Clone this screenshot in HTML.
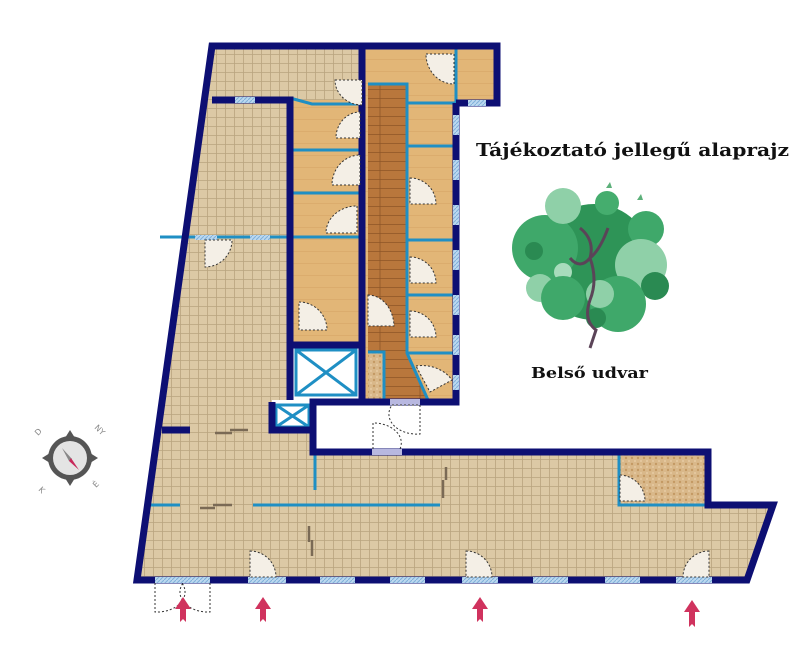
<!DOCTYPE html>
<html><head><meta charset="utf-8"><style>html,body{margin:0;padding:0;background:#fff}svg{display:block}</style></head>
<body>
<svg width="800" height="656" viewBox="0 0 800 656" xmlns="http://www.w3.org/2000/svg">
<defs>
<pattern id="tile" width="9" height="9" patternUnits="userSpaceOnUse">
<rect width="9" height="9" fill="#dcc9a5"/>
<path d="M0 0.5H9M0.5 0V9" stroke="#b9a47f" stroke-width="0.8"/>
</pattern>
<pattern id="wood" width="40" height="12" patternUnits="userSpaceOnUse">
<rect width="40" height="12" fill="#e2b677"/>
<path d="M0 11.5H40" stroke="#d4a263" stroke-width="0.6"/>
</pattern>
<pattern id="dwood" width="40" height="9" patternUnits="userSpaceOnUse">
<rect width="40" height="9" fill="#b9773c"/>
<path d="M0 8.5H40M20 0V9" stroke="#8e5526" stroke-width="0.8"/>
</pattern>
<pattern id="dot" width="6" height="6" patternUnits="userSpaceOnUse">
<rect width="6" height="6" fill="#d9b88a"/>
<circle cx="2" cy="2" r="1.2" fill="#c49a64"/><circle cx="5" cy="5" r="1" fill="#e6cba3"/>
</pattern>
<pattern id="win" width="4" height="4" patternUnits="userSpaceOnUse">
<rect width="4" height="4" fill="#bcd8ef"/><path d="M0 4L4 0" stroke="#7fb0da" stroke-width="1"/>
</pattern>
</defs>

<!-- floors -->
<polygon points="212,46 362,46 362,100 290,100 290,400 272,400 272,430 313,430 313,452 708,452 708,505 773,505 747,580 137,580" fill="url(#tile)"/>
<rect x="362" y="46" width="135" height="57" fill="url(#wood)"/>
<rect x="290" y="100" width="72" height="245" fill="url(#wood)"/>
<rect x="362" y="84" width="94" height="316" fill="url(#wood)"/>
<polygon points="368,84 407,84 407,353 428,400 368,400" fill="url(#dwood)"/>
<rect x="368" y="352" width="16" height="48" fill="url(#dot)"/>
<rect x="619" y="452" width="89" height="53" fill="url(#dot)"/>
<rect x="290" y="345" width="72" height="55" fill="#fff"/>
<rect x="272" y="402" width="41" height="28" fill="#fff"/>

<!-- blue thin walls -->
<g stroke="#1f8fc4" stroke-width="3" fill="none">
<path d="M160 237H290"/>
<path d="M290 98L312 104H362"/>
<path d="M290 150H362M290 193H362M290 237H362"/>
<path d="M368 84H407V353L428 400"/>
<path d="M407 103H456M407 146H456M407 240H456M407 295H456M407 353H456"/>
<path d="M456 46V103"/>
<path d="M368 352H384V400"/>
<path d="M315 452V490"/>
<path d="M150 505H180M253 505H440"/>
<path d="M619 452V505H708"/>
<rect x="296" y="350" width="60" height="45"/>
<path d="M296 350L356 395M356 350L296 395"/>
<rect x="276" y="405" width="33" height="22"/>
<path d="M276 405L309 427M309 405L276 427"/>
</g>
<rect x="195" y="235" width="22" height="5" fill="url(#win)"/>
<rect x="250" y="235" width="20" height="5" fill="url(#win)"/>

<!-- dark walls -->
<g stroke="#0d0f73" stroke-width="7" fill="none" stroke-linejoin="miter">
<path d="M456 103H497V46H212L137 580H747L773 505H708V452H313V402H456V103"/>
<path d="M212 100H290V400"/>
<path d="M362 46V402"/>
<path d="M290 345H362"/>
<path d="M272 402V430H313"/>
<path d="M162 430H190"/>
</g>
<g fill="url(#win)">
<rect x="235" y="97" width="20" height="6"/>
<rect x="468" y="100" width="18" height="6"/>
<rect x="453" y="115" width="6" height="20"/>
<rect x="453" y="160" width="6" height="20"/>
<rect x="453" y="205" width="6" height="20"/>
<rect x="453" y="250" width="6" height="20"/>
<rect x="453" y="295" width="6" height="20"/>
<rect x="453" y="335" width="6" height="20"/>
<rect x="453" y="375" width="6" height="15"/>
<rect x="155" y="577" width="55" height="6"/>
<rect x="248" y="577" width="38" height="6"/>
<rect x="320" y="577" width="35" height="6"/>
<rect x="390" y="577" width="35" height="6"/>
<rect x="462" y="577" width="36" height="6"/>
<rect x="533" y="577" width="35" height="6"/>
<rect x="605" y="577" width="35" height="6"/>
<rect x="676" y="577" width="36" height="6"/>
</g>
<rect x="390" y="399" width="30" height="6" fill="#b8b8e0"/>
<rect x="372" y="449" width="30" height="6" fill="#b8b8e0"/>

<!-- doors -->
<g fill="#f4efe6" stroke="#333" stroke-width="1" stroke-dasharray="2,2">
<path d="M335 80H362V105A27 25 0 0 1 335 80Z"/>
<path d="M360 112V138H336A24 26 0 0 1 360 112Z"/>
<path d="M360 155V185H332A28 30 0 0 1 360 155Z"/>
<path d="M357 206V233H326A31 27 0 0 1 357 206Z"/>
<path d="M205 240H232A27 27 0 0 1 205 267Z"/>
<path d="M299 302A28 28 0 0 1 327 330H299Z"/>
<path d="M426 54H454V84A28 30 0 0 1 426 54Z"/>
<path d="M410 178A26 26 0 0 1 436 204H410Z"/>
<path d="M410 257A26 26 0 0 1 436 283H410Z"/>
<path d="M410 311A26 26 0 0 1 436 337H410Z"/>
<path d="M416 366A35 30 0 0 1 452 380L430 392Z"/>
<path d="M368 295A26 32 0 0 1 394 326H368Z"/>
<path d="M620 475A26 26 0 0 1 645 501H620Z"/>
<path d="M250 551A26 26 0 0 1 276 577H250Z"/>
<path d="M466 551A26 26 0 0 1 492 577H466Z"/>
<path d="M709 551A26 26 0 0 0 683 577H709Z"/>
<path d="M392 405L420 405V434A28 20 0 0 1 392 405Z" fill="none"/>
<path d="M373 449V423A28 20 0 0 1 400 449" fill="none"/>
<path d="M155 583V612A28 20 0 0 0 182 583M210 583V612A28 20 0 0 1 183 583" fill="none"/>
</g>
<g stroke="#7a6a55" stroke-width="2.5">
<path d="M215 433H232M230 430H248M200 508H215M213 505H232M309 526V542M312 540V556M446 467V480M443 480V498"/>
</g>

<!-- arrows -->
<g fill="#d0335e">
<path d="M183 597L191 609H186V622L183 619L180 622V609H175Z"/>
<path d="M263 597L271 609H266V622L263 619L260 622V609H255Z"/>
<path d="M480 597L488 609H483V622L480 619L477 622V609H472Z"/>
<path d="M692 600L700 612H695V627L692 624L689 627V612H684Z"/>
</g>

<text x="476" y="156" font-family="DejaVu Serif, Liberation Serif, serif" font-weight="bold" font-size="18" textLength="313" lengthAdjust="spacingAndGlyphs" fill="#111">Tájékoztató jellegű alaprajz</text>
<text x="531" y="378" font-family="DejaVu Serif, Liberation Serif, serif" font-weight="bold" font-size="15" textLength="117" lengthAdjust="spacingAndGlyphs" fill="#111">Belső udvar</text>

<!-- compass -->
<g transform="translate(70,458)">
<path d="M0 -28L5 -20L-5 -20Z M28 0L20 5L20 -5Z M0 28L-5 20L5 20Z M-28 0L-20 -5L-20 5Z" fill="#555"/>
<circle r="22" fill="#555"/>
<circle r="17" fill="#e4e4e4"/>
<path d="M-8 -10L2 1L-1 3Z" fill="#888"/>
<path d="M1 0L9 12L-1 3Z" fill="#c8285a"/>
<text x="-32" y="-22" font-family="DejaVu Sans" font-size="8" fill="#888" transform="rotate(-45 -32 -22)">D</text>
<text x="24" y="-30" font-family="DejaVu Sans" font-size="8" fill="#888" transform="rotate(45 24 -30)">NY</text>
<text x="26" y="30" font-family="DejaVu Sans" font-size="8" fill="#888" transform="rotate(-45 26 30)">É</text>
<text x="-32" y="32" font-family="DejaVu Sans" font-size="8" fill="#888" transform="rotate(45 -32 32)">K</text>
</g>

<!-- tree -->
<g>
<circle cx="594" cy="262" r="58" fill="#2e9457"/>
<circle cx="545" cy="248" r="33" fill="#3fa86a"/>
<circle cx="534" cy="251" r="9" fill="#2a8a52"/>
<circle cx="563" cy="206" r="18" fill="#8fd0a8"/>
<circle cx="607" cy="203" r="12" fill="#45ad6e"/>
<circle cx="646" cy="229" r="18" fill="#3fa86a"/>
<circle cx="641" cy="265" r="26" fill="#8fd0a8"/>
<circle cx="655" cy="286" r="14" fill="#2a8a52"/>
<circle cx="563" cy="272" r="9" fill="#a8dcbc"/>
<circle cx="540" cy="288" r="14" fill="#8fd0a8"/>
<circle cx="563" cy="298" r="22" fill="#3fa86a"/>
<circle cx="618" cy="304" r="28" fill="#3fa86a"/>
<circle cx="600" cy="294" r="14" fill="#8fd0a8"/>
<circle cx="596" cy="318" r="10" fill="#2a8a52"/>
<path d="M580 228Q595 240 590 258Q600 250 608 228M590 258Q580 270 570 258M590 258Q598 280 590 300Q583 320 596 330L590 348" stroke="#5b4458" stroke-width="3" fill="none"/>
<path d="M606 188l4 -6l2 6z M637 200l4 -6l2 6z" fill="#5cb07a"/>
</g>
</svg>
</body></html>
